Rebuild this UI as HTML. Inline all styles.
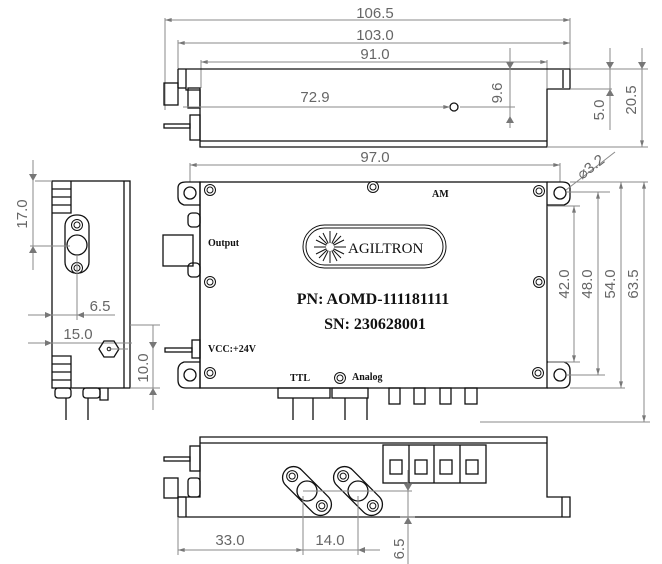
<!DOCTYPE html>
<html><head><meta charset="utf-8"><style>
html,body{margin:0;padding:0;background:#fff}
svg{display:block}
.d{stroke:#8a8a8a;stroke-width:1;fill:none}
.o{stroke:#111;stroke-width:1.3;fill:none}
.t{font-family:"Liberation Sans",sans-serif;font-size:15px;fill:#666}
.s{font-family:"Liberation Serif",serif;font-weight:bold;fill:#111}
</style></head><body>
<svg width="662" height="564" viewBox="0 0 662 564" xmlns="http://www.w3.org/2000/svg">
<defs>
<marker id="a" viewBox="0 0 10 6" refX="10" refY="3" markerWidth="8" markerHeight="4" orient="auto-start-reverse"><path d="M0,0L10,3L0,6z" fill="#777"/></marker>
<g id="scr"><circle r="5.5" fill="#fff" stroke="#111"/><circle r="3" fill="none" stroke="#111"/></g>
</defs>

<!-- TOP SIDE VIEW -->
<line class="d" x1="165" y1="20" x2="570" y2="20" marker-start="url(#a)" marker-end="url(#a)"/>
<text class="t" x="375" y="18" text-anchor="middle">106.5</text>
<line class="d" x1="178" y1="43" x2="570" y2="43" marker-start="url(#a)" marker-end="url(#a)"/>
<text class="t" x="375" y="40" text-anchor="middle">103.0</text>
<line class="d" x1="201" y1="62" x2="547" y2="62" marker-start="url(#a)" marker-end="url(#a)"/>
<text class="t" x="375" y="59" text-anchor="middle">91.0</text>
<line class="d" x1="165" y1="18" x2="165" y2="110"/><line class="d" x1="178" y1="40" x2="178" y2="70"/>
<line class="d" x1="570" y1="18" x2="570" y2="70"/><line class="d" x1="201" y1="60" x2="201" y2="88"/><line class="d" x1="547" y1="60" x2="547" y2="88"/>
<path class="o" d="M178,69H570V89H547V147H200V90H186V69"/>
<line class="o" x1="178" y1="69" x2="178" y2="88"/><line class="o" x1="178" y1="88" x2="186" y2="88"/>
<line class="o" x1="563" y1="70" x2="563" y2="88"/>
<line class="o" x1="200" y1="141" x2="547" y2="141"/>
<rect class="o" x="164" y="83" width="14" height="22"/>
<rect class="o" x="188" y="88" width="12" height="20"/>
<rect class="o" x="190" y="115" width="10" height="25"/>
<rect class="o" x="164" y="124" width="26" height="4"/>
<circle class="o" cx="454" cy="107" r="4"/>
<line class="d" x1="183" y1="107" x2="450" y2="107" marker-end="url(#a)"/>
<text class="t" x="315" y="102" text-anchor="middle">72.9</text>
<line class="d" x1="510" y1="48" x2="510" y2="128" /><path d="M506,62L510,69L514,62M506,123L510,116L514,123" fill="#777"/>
<line class="d" x1="460" y1="107" x2="515" y2="107"/>
<text class="t" transform="translate(502,93) rotate(-90)" text-anchor="middle">9.6</text>
<line class="d" x1="570" y1="69" x2="648" y2="69"/><line class="d" x1="570" y1="89" x2="612" y2="89"/><line class="d" x1="547" y1="147" x2="648" y2="147"/>
<line class="d" x1="610" y1="48" x2="610" y2="130"/><path d="M606,62L610,69L614,62M606,96L610,89L614,96" fill="#777"/>
<text class="t" transform="translate(604,110) rotate(-90)" text-anchor="middle">5.0</text>
<line class="d" x1="642" y1="48" x2="642" y2="147" marker-end="url(#a)"/><path d="M638,62L642,69L646,62" fill="#777"/>
<text class="t" transform="translate(636,100) rotate(-90)" text-anchor="middle">20.5</text>

<!-- MAIN TOP VIEW -->
<line class="d" x1="190" y1="165" x2="560" y2="165" marker-start="url(#a)" marker-end="url(#a)"/>
<text class="t" x="375" y="162" text-anchor="middle">97.0</text>
<line class="d" x1="190" y1="163" x2="190" y2="182"/><line class="d" x1="560" y1="163" x2="560" y2="182"/>
<path class="o" d="M186,182H200V388H186Q178,388 178,380V370Q178,364 184,362H200M200,205H184Q178,203 178,197V188Q178,182 186,182"/>
<path class="o" d="M547,182H562Q570,182 570,188V197Q570,203 564,205H547M547,362H564Q570,364 570,370V380Q570,388 562,388H547"/>
<rect class="o" x="200" y="182" width="347" height="206"/>
<circle class="o" cx="190" cy="193" r="6"/><circle class="o" cx="190" cy="375" r="6"/>
<circle class="o" cx="560" cy="193" r="6"/><circle class="o" cx="560" cy="375" r="6"/>
<use href="#scr" x="210" y="190"/><use href="#scr" x="373" y="187"/><use href="#scr" x="539" y="191"/>
<use href="#scr" x="210" y="282"/><use href="#scr" x="539" y="282"/>
<use href="#scr" x="210" y="373"/><use href="#scr" x="340" y="378"/><use href="#scr" x="538" y="373"/>
<text class="s" x="432" y="197" font-size="10">AM</text>
<rect x="303" y="225" width="143" height="43" rx="21.5" fill="none" stroke="#111" stroke-width="1"/>
<rect x="306" y="228" width="137" height="37" rx="18.5" fill="none" stroke="#111" stroke-width="1"/>
<g stroke="#111" stroke-width="1">
<line x1="314" y1="247" x2="346" y2="247"/><line x1="330" y1="231" x2="330" y2="263"/>
<line x1="319" y1="236" x2="341" y2="258"/><line x1="319" y1="258" x2="341" y2="236"/>
<line x1="323" y1="233" x2="337" y2="261"/><line x1="337" y1="233" x2="323" y2="261"/>
<line x1="316" y1="240" x2="344" y2="254"/><line x1="316" y1="254" x2="344" y2="240"/>
</g><circle cx="330" cy="247" r="4" fill="#fff"/>
<text x="348" y="253" font-family="Liberation Serif,serif" font-size="15" fill="#111">AGILTRON</text>
<text class="s" x="208" y="246" font-size="10">Output</text>
<text x="373" y="304" font-family="Liberation Serif,serif" font-weight="bold" font-size="16" fill="#111" text-anchor="middle">PN: AOMD-111181111</text>
<text x="375" y="329" font-family="Liberation Serif,serif" font-weight="bold" font-size="16" fill="#111" text-anchor="middle">SN: 230628001</text>
<text class="s" x="208" y="352" font-size="10">VCC:+24V</text>
<text class="s" x="290" y="381" font-size="10">TTL</text>
<text class="s" x="352" y="380" font-size="10">Analog</text>
<rect class="o" x="163" y="235" width="30" height="31"/>
<rect class="o" x="188" y="213" width="12" height="14" rx="4"/><rect class="o" x="188" y="263" width="12" height="14" rx="4"/>
<rect class="o" x="192" y="340" width="8" height="18"/><rect class="o" x="165" y="348" width="27" height="4"/>
<rect class="o" x="278" y="388" width="52" height="10"/><rect class="o" x="332" y="388" width="36" height="10"/>
<path class="o" d="M293,398V420M313,398V420M345,398V420M367,398V420"/>
<rect class="o" x="389" y="388" width="11" height="16"/><rect class="o" x="414" y="388" width="11" height="16"/>
<rect class="o" x="440" y="388" width="11" height="16"/><rect class="o" x="465" y="388" width="12" height="16"/>
<line class="d" x1="567" y1="192" x2="610" y2="192"/><line class="d" x1="570" y1="182" x2="648" y2="182"/>
<line class="d" x1="548" y1="206" x2="580" y2="206"/><line class="d" x1="548" y1="362" x2="580" y2="362"/>
<line class="d" x1="567" y1="375" x2="605" y2="375"/><line class="d" x1="570" y1="388" x2="625" y2="388"/>
<line class="d" x1="480" y1="422" x2="650" y2="422"/>
<line class="d" x1="574" y1="206" x2="574" y2="362" marker-start="url(#a)" marker-end="url(#a)"/>
<text class="t" transform="translate(569,284) rotate(-90)" text-anchor="middle">42.0</text>
<line class="d" x1="598" y1="192" x2="598" y2="375" marker-start="url(#a)" marker-end="url(#a)"/>
<text class="t" transform="translate(592,284) rotate(-90)" text-anchor="middle">48.0</text>
<line class="d" x1="621" y1="182" x2="621" y2="388" marker-start="url(#a)" marker-end="url(#a)"/>
<text class="t" transform="translate(615,284) rotate(-90)" text-anchor="middle">54.0</text>
<line class="d" x1="644" y1="182" x2="644" y2="422" marker-start="url(#a)" marker-end="url(#a)"/>
<text class="t" transform="translate(638,284) rotate(-90)" text-anchor="middle">63.5</text>
<line class="d" x1="566" y1="190" x2="615" y2="152"/>
<text class="t" transform="translate(582,180) rotate(-38)">⌀3.2</text>

<!-- LEFT VIEW -->
<rect class="o" x="52" y="181" width="78" height="207"/>
<line class="o" x1="124" y1="181" x2="124" y2="388"/>
<path class="o" d="M52,213H71V181M52,189H71M52,197H71M52,205H71"/>
<path class="o" d="M52,356H71V388M52,364H71M52,372H71M52,380H71"/>
<rect class="o" x="65" y="215" width="24" height="58" rx="11"/>
<circle class="o" cx="77" cy="245" r="10"/>
<use href="#scr" x="77" y="225"/><use href="#scr" x="77" y="268"/>
<line class="d" x1="77" y1="255" x2="77" y2="320"/>
<line class="d" x1="35" y1="181" x2="52" y2="181"/><line class="d" x1="30" y1="246" x2="70" y2="246"/>
<line class="d" x1="33" y1="160" x2="33" y2="270"/><path d="M29,174L33,181L37,174M29,253L33,246L37,253" fill="#777"/>
<text class="t" transform="translate(27,214) rotate(-90)" text-anchor="middle">17.0</text>
<line class="d" x1="28" y1="315" x2="115" y2="315"/><path d="M45,312L52,315L45,318M84,312L77,315L84,318" fill="#777"/>
<text class="t" x="100" y="311" text-anchor="middle">6.5</text>
<line class="d" x1="28" y1="343" x2="132" y2="343"/><path d="M45,340L52,343L45,346" fill="#777"/>
<text class="t" x="78" y="339" text-anchor="middle">15.0</text>
<polygon class="o" points="99,349 104,341 114,341 119,349 114,357 104,357"/>
<circle cx="109" cy="349" r="1.8" fill="none" stroke="#111"/>
<line class="d" x1="109" y1="349" x2="128" y2="349"/>
<line class="d" x1="130" y1="325" x2="160" y2="325"/><line class="d" x1="130" y1="388" x2="160" y2="388"/>
<line class="d" x1="153" y1="325" x2="153" y2="410"/><path d="M149,342L153,349L157,342M149,395L153,388L157,395" fill="#777"/>
<text class="t" transform="translate(148,368) rotate(-90)" text-anchor="middle">10.0</text>
<rect class="o" x="55" y="388" width="16" height="10" rx="3"/><rect class="o" x="83" y="388" width="17" height="10" rx="3"/>
<path class="o" d="M100,388V400H108V388M66,398V420M88,398V420"/>

<!-- BOTTOM VIEW -->
<path class="o" d="M200,437H547V497H570V517H178V497H200Z"/>
<line class="o" x1="200" y1="443" x2="547" y2="443"/>
<line class="o" x1="178" y1="497" x2="186" y2="497"/><line class="o" x1="186" y1="497" x2="186" y2="517"/>
<line class="o" x1="562" y1="497" x2="562" y2="517"/>
<rect class="o" x="164" y="478" width="14" height="20"/>
<rect class="o" x="190" y="446" width="10" height="25"/><rect class="o" x="164" y="457" width="26" height="4"/>
<rect class="o" x="188" y="478" width="12" height="19" rx="3"/>
<rect class="o" x="383" y="445" width="103" height="38"/>
<path class="o" d="M409,445V483M434,445V483M460,445V483"/>
<rect class="o" x="390" y="460" width="12" height="14"/><rect class="o" x="415" y="460" width="12" height="14"/>
<rect class="o" x="440" y="460" width="12" height="14"/><rect class="o" x="466" y="460" width="12" height="14"/>
<g transform="translate(307,491) rotate(45)"><rect class="o" x="-30" y="-11" width="60" height="22" rx="11" fill="#fff"/><circle class="o" r="10"/><use href="#scr" x="-21" y="0"/><use href="#scr" x="21" y="0"/></g>
<g transform="translate(358,491) rotate(45)"><rect class="o" x="-30" y="-11" width="60" height="22" rx="11" fill="#fff"/><circle class="o" r="10"/><use href="#scr" x="-21" y="0"/><use href="#scr" x="21" y="0"/></g>
<line class="d" x1="303" y1="491" x2="412" y2="491"/>
<line class="d" x1="178" y1="517" x2="178" y2="555"/><line class="d" x1="303" y1="496" x2="303" y2="555"/><line class="d" x1="358" y1="496" x2="358" y2="555"/>
<line class="d" x1="178" y1="550" x2="303" y2="550" marker-start="url(#a)" marker-end="url(#a)"/>
<text class="t" x="230" y="545" text-anchor="middle">33.0</text>
<line class="d" x1="303" y1="550" x2="380" y2="550"/><path d="M365,547L358,550L365,553" fill="#777"/>
<text class="t" x="330" y="545" text-anchor="middle">14.0</text>
<line class="d" x1="408" y1="470" x2="408" y2="564"/><path d="M404,484L408,491L412,484M404,524L408,517L412,524" fill="#777"/>
<line class="d" x1="400" y1="517" x2="415" y2="517"/>
<text class="t" transform="translate(404,549) rotate(-90)" text-anchor="middle">6.5</text>
</svg>
</body></html>
